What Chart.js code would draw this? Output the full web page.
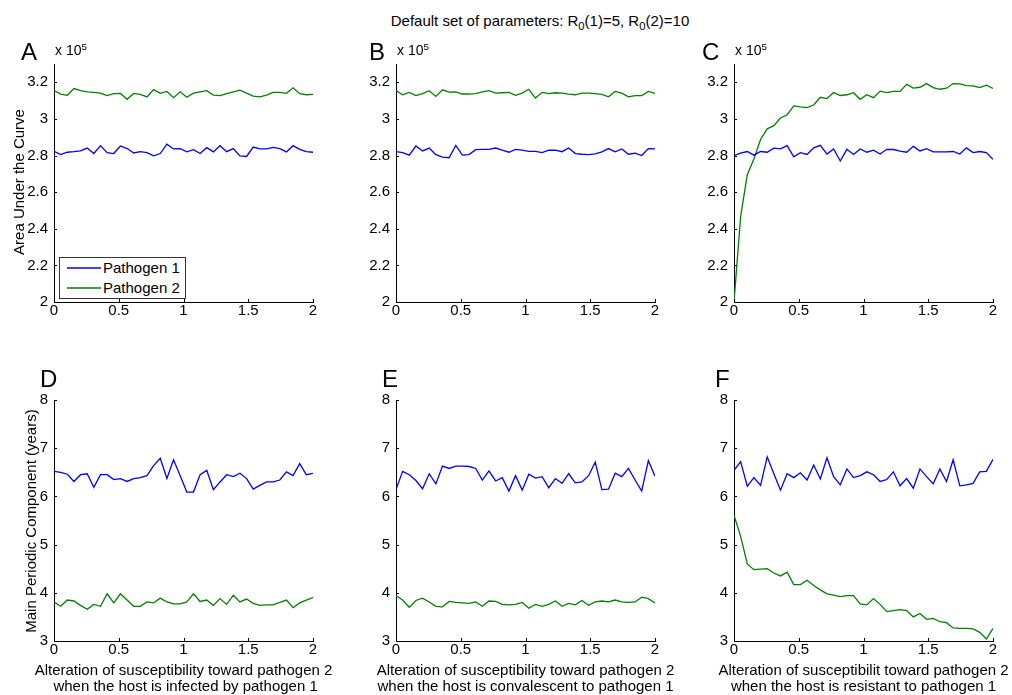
<!DOCTYPE html>
<html>
<head>
<meta charset="utf-8">
<script src="https://cdn.jsdelivr.net/npm/chart.js@4.4.0/dist/chart.umd.min.js"></script>
<style>
  body { margin: 0; background: #fff; }
  #page { position: relative; width: 1012px; height: 695px; overflow: hidden;
          font-family: "Liberation Sans", Arial, Helvetica, sans-serif; color: #000; }
  .panel { position: absolute; }
  .txt { position: absolute; white-space: pre; line-height: 1; }
  .txt sub { font-size: 0.75em; vertical-align: baseline; position: relative; top: 0.3em; }
  .txt sup { font-size: 0.7em; vertical-align: baseline; position: relative; top: -0.55em; }
  .legend { position: absolute; border: 1px solid #333; background: #fff; box-sizing: border-box; }
  .legend .swatch { position: absolute; height: 2px; opacity: 0.75; }
</style>
</head>
<body>
<div id="page"></div>
<script>
// x axis: alteration of susceptibility, 40 steps from 0 to 2
const xValues = [0, 0.0513, 0.1026, 0.1538, 0.2051, 0.2564, 0.3077, 0.3590, 0.4103, 0.4615,
  0.5128, 0.5641, 0.6154, 0.6667, 0.7179, 0.7692, 0.8205, 0.8718, 0.9231, 0.9744,
  1.0256, 1.0769, 1.1282, 1.1795, 1.2308, 1.2821, 1.3333, 1.3846, 1.4359, 1.4872,
  1.5385, 1.5897, 1.6410, 1.6923, 1.7436, 1.7949, 1.8462, 1.8974, 1.9487, 2];

// Area under the curve (x 10^5)
const aucInfectedP1 = [2.823, 2.805, 2.818, 2.821, 2.825, 2.841, 2.811, 2.854, 2.816, 2.811,
  2.852, 2.838, 2.814, 2.821, 2.816, 2.798, 2.811, 2.862, 2.836, 2.838,
  2.820, 2.832, 2.811, 2.843, 2.820, 2.854, 2.821, 2.838, 2.798, 2.795,
  2.846, 2.836, 2.836, 2.845, 2.838, 2.820, 2.854, 2.834, 2.821, 2.818];
const aucInfectedP2 = [3.155, 3.136, 3.129, 3.166, 3.154, 3.148, 3.145, 3.141, 3.127, 3.138,
  3.139, 3.107, 3.139, 3.134, 3.120, 3.160, 3.140, 3.150, 3.116, 3.148,
  3.118, 3.141, 3.148, 3.154, 3.130, 3.127, 3.138, 3.148, 3.157, 3.141,
  3.125, 3.120, 3.130, 3.145, 3.145, 3.140, 3.170, 3.138, 3.132, 3.134];
const aucConvalescentP1 = [2.821, 2.816, 2.802, 2.852, 2.825, 2.841, 2.805, 2.791, 2.788, 2.855,
  2.802, 2.805, 2.832, 2.834, 2.834, 2.841, 2.829, 2.818, 2.834, 2.829,
  2.823, 2.823, 2.816, 2.830, 2.829, 2.821, 2.841, 2.811, 2.807, 2.805,
  2.809, 2.820, 2.838, 2.820, 2.836, 2.807, 2.813, 2.800, 2.838, 2.836];
const aucConvalescentP2 = [3.155, 3.132, 3.145, 3.127, 3.138, 3.154, 3.123, 3.159, 3.146, 3.148,
  3.136, 3.136, 3.138, 3.148, 3.154, 3.141, 3.143, 3.145, 3.129, 3.141,
  3.162, 3.114, 3.145, 3.138, 3.143, 3.141, 3.136, 3.132, 3.141, 3.141,
  3.138, 3.134, 3.121, 3.150, 3.141, 3.121, 3.127, 3.127, 3.150, 3.139];
const aucResistantP1 = [2.799, 2.813, 2.822, 2.802, 2.822, 2.818, 2.840, 2.836, 2.854, 2.793,
  2.816, 2.806, 2.842, 2.856, 2.808, 2.836, 2.770, 2.834, 2.806, 2.836,
  2.818, 2.829, 2.808, 2.834, 2.833, 2.824, 2.818, 2.850, 2.825, 2.838,
  2.820, 2.820, 2.820, 2.822, 2.808, 2.842, 2.816, 2.822, 2.816, 2.779];
const aucResistantP2 = [2.000, 2.467, 2.695, 2.781, 2.888, 2.946, 2.963, 3.005, 3.023, 3.071,
  3.066, 3.062, 3.076, 3.118, 3.111, 3.144, 3.128, 3.132, 3.143, 3.107,
  3.132, 3.116, 3.152, 3.144, 3.150, 3.150, 3.189, 3.168, 3.173, 3.193,
  3.171, 3.162, 3.168, 3.193, 3.191, 3.182, 3.180, 3.171, 3.184, 3.166];

// Main periodic component (years)
const periodInfectedP1 = [6.52, 6.50, 6.46, 6.31, 6.45, 6.47, 6.19, 6.45, 6.45, 6.35,
  6.37, 6.31, 6.37, 6.39, 6.43, 6.64, 6.79, 6.37, 6.76, 6.43,
  6.09, 6.09, 6.45, 6.54, 6.14, 6.30, 6.45, 6.41, 6.48, 6.37,
  6.15, 6.23, 6.30, 6.30, 6.34, 6.51, 6.43, 6.68, 6.45, 6.48];
const periodInfectedP2 = [3.81, 3.72, 3.85, 3.83, 3.74, 3.66, 3.76, 3.72, 3.98, 3.79,
  3.98, 3.85, 3.72, 3.72, 3.81, 3.79, 3.89, 3.81, 3.77, 3.77,
  3.81, 3.98, 3.82, 3.85, 3.74, 3.88, 3.76, 3.95, 3.81, 3.87,
  3.78, 3.74, 3.75, 3.75, 3.80, 3.85, 3.69, 3.79, 3.85, 3.90];
const periodConvalescentP1 = [6.14, 6.52, 6.45, 6.33, 6.16, 6.47, 6.26, 6.63, 6.58, 6.63,
  6.63, 6.62, 6.58, 6.34, 6.53, 6.32, 6.39, 6.11, 6.43, 6.13,
  6.46, 6.38, 6.41, 6.18, 6.37, 6.27, 6.47, 6.28, 6.30, 6.43,
  6.71, 6.14, 6.15, 6.48, 6.41, 6.58, 6.34, 6.11, 6.74, 6.42];
const periodConvalescentP2 = [3.94, 3.85, 3.70, 3.84, 3.89, 3.81, 3.72, 3.71, 3.82, 3.80,
  3.79, 3.78, 3.81, 3.72, 3.83, 3.82, 3.76, 3.75, 3.76, 3.80,
  3.68, 3.76, 3.72, 3.76, 3.83, 3.72, 3.78, 3.75, 3.84, 3.74,
  3.81, 3.83, 3.81, 3.85, 3.81, 3.80, 3.81, 3.91, 3.88, 3.79];
const periodResistantP1 = [6.54, 6.72, 6.21, 6.39, 6.23, 6.82, 6.47, 6.13, 6.47, 6.39,
  6.49, 6.34, 6.65, 6.36, 6.80, 6.41, 6.24, 6.57, 6.39, 6.43,
  6.51, 6.45, 6.31, 6.35, 6.51, 6.22, 6.37, 6.17, 6.57, 6.41,
  6.26, 6.57, 6.31, 6.76, 6.22, 6.24, 6.27, 6.51, 6.52, 6.77];
const periodResistantP2 = [5.61, 5.17, 4.60, 4.48, 4.49, 4.50, 4.41, 4.35, 4.43, 4.17,
  4.17, 4.26, 4.15, 4.06, 3.98, 3.95, 3.92, 3.94, 3.94, 3.77,
  3.75, 3.88, 3.76, 3.61, 3.63, 3.65, 3.63, 3.50, 3.57, 3.45,
  3.47, 3.40, 3.38, 3.27, 3.26, 3.26, 3.25, 3.18, 3.04, 3.26];

// Tick labels
const xTicks = [0, 0.5, 1, 1.5, 2];
const aucTicks = [2, 2.2, 2.4, 2.6, 2.8, 3, 3.2];
const periodTicks = [3, 4, 5, 6, 7, 8];

const FONT = '"Liberation Sans", Arial, Helvetica, sans-serif';
const BLUE = '#0000ff';
const GREEN = '#008000';
const page = document.getElementById('page');

// MATLAB style ticks, drawn inside the axes.
const inwardTicks = {
  id: 'inwardTicks',
  afterDraw: function (chart) {
    const ctx = chart.ctx;
    const area = chart.chartArea;
    const xs = chart.scales.x;
    const ys = chart.scales.y;
    ctx.save();
    ctx.strokeStyle = '#000';
    ctx.lineWidth = 1;
    ctx.beginPath();
    xs.ticks.forEach(function (t) {
      const px = Math.round(xs.getPixelForValue(t.value)) + 0.5;
      ctx.moveTo(px, area.bottom);
      ctx.lineTo(px, area.bottom - 3);
    });
    ys.ticks.forEach(function (t) {
      const py = Math.round(ys.getPixelForValue(t.value)) + 0.5;
      ctx.moveTo(area.left, py);
      ctx.lineTo(area.left + 3, py);
    });
    ctx.stroke();
    ctx.restore();
  }
};

function tickLabel(v) {
  return String(Math.round(v * 10) / 10);
}

function makePanel(left, top, width, height, p1, p2, yMin, yMax, yTicks) {
  const padTop = 12, padRight = 14, yAxisW = 50, xAxisH = 30;
  const box = document.createElement('div');
  box.className = 'panel';
  box.style.left = (left - yAxisW) + 'px';
  box.style.top = (top - padTop) + 'px';
  const canvas = document.createElement('canvas');
  canvas.width = yAxisW + width + padRight;
  canvas.height = padTop + height + xAxisH;
  box.appendChild(canvas);
  page.appendChild(box);

  return new Chart(canvas, {
    type: 'line',
    data: {
      datasets: [{
        label: 'Pathogen 1',
        data: xValues.map(function (x, i) { return { x: x, y: p1[i] }; }),
        borderColor: BLUE,
        borderWidth: 1.3,
        pointRadius: 0,
        tension: 0
      }, {
        label: 'Pathogen 2',
        data: xValues.map(function (x, i) { return { x: x, y: p2[i] }; }),
        borderColor: GREEN,
        borderWidth: 1.3,
        pointRadius: 0,
        tension: 0
      }]
    },
    options: {
      responsive: false,
      animation: false,
      events: [],
      layout: { padding: { top: padTop, right: padRight, left: 0, bottom: 0 } },
      plugins: { legend: { display: false }, tooltip: { enabled: false } },
      scales: {
        x: {
          type: 'linear', min: 0, max: 2,
          grid: { display: false, drawTicks: false },
          border: { display: true, color: '#000', width: 1 },
          ticks: { color: '#000', padding: 0, font: { family: FONT, size: 15 }, callback: tickLabel },
          afterBuildTicks: function (s) { s.ticks = xTicks.map(function (v) { return { value: v }; }); },
          afterFit: function (s) { s.height = xAxisH; }
        },
        y: {
          type: 'linear', min: yMin, max: yMax,
          grid: { display: false, drawTicks: false },
          border: { display: true, color: '#000', width: 1 },
          ticks: { color: '#000', padding: 6, font: { family: FONT, size: 15 }, callback: tickLabel },
          afterBuildTicks: function (s) { s.ticks = yTicks.map(function (v) { return { value: v }; }); },
          afterFit: function (s) { s.width = yAxisW; }
        }
      }
    },
    plugins: [inwardTicks]
  });
}

function addText(html, x, baseline, size, align, parent) {
  const d = document.createElement('div');
  d.className = 'txt';
  d.style.fontSize = size + 'px';
  d.innerHTML = html;
  d.style.top = (baseline - 0.8465 * size) + 'px';
  d.style.left = x + 'px';
  if (align === 'center') {
    d.style.transform = 'translateX(-50%)';
  }
  (parent || page).appendChild(d);
}

function addVerticalText(html, cx, cy, size) {
  const d = document.createElement('div');
  d.className = 'txt';
  d.style.fontSize = size + 'px';
  d.innerHTML = html;
  d.style.left = cx + 'px';
  d.style.top = cy + 'px';
  d.style.transform = 'translate(-50%, -50%) rotate(-90deg)';
  page.appendChild(d);
}

// Panels
const cols = [54, 396, 734];
const plotW = 259;
makePanel(cols[0], 61, plotW, 241, aucInfectedP1, aucInfectedP2, 2, 3.3, aucTicks);
makePanel(cols[1], 61, plotW, 241, aucConvalescentP1, aucConvalescentP2, 2, 3.3, aucTicks);
makePanel(cols[2], 61, plotW, 241, aucResistantP1, aucResistantP2, 2, 3.3, aucTicks);
makePanel(cols[0], 397, plotW, 244, periodInfectedP1, periodInfectedP2, 3, 8, periodTicks);
makePanel(cols[1], 397, plotW, 244, periodConvalescentP1, periodConvalescentP2, 3, 8, periodTicks);
makePanel(cols[2], 397, plotW, 244, periodResistantP1, periodResistantP2, 3, 8, periodTicks);

// Texts
addText('Default set of parameters: R<sub>0</sub>(1)=5, R<sub>0</sub>(2)=10', 540, 26, 15, 'center');

addText('A', 21, 60, 24);
addText('B', 369, 60, 24);
addText('C', 702, 60, 24);
addText('D', 40, 387, 24);
addText('E', 382, 387, 24);
addText('F', 715, 387, 24);

cols.forEach(function (c) {
  addText('x 10<sup>5</sup>', c + 1, 55, 14);
});

addVerticalText('Area Under the Curve', 18, 182, 15);
addVerticalText('Main Periodic Component (years)', 30, 521, 15);

const xLabelTop = ['Alteration of susceptibility toward pathogen 2',
  'Alteration of susceptibility toward pathogen 2',
  'Alteration of susceptibilit toward pathogen 2'];
const xLabelBottom = [' when the host is infected by pathogen 1',
  'when the host is convalescent to pathogen 1',
  'when the host is resistant to pathogen 1'];
cols.forEach(function (c, i) {
  addText(xLabelTop[i], c + plotW / 2, 675, 15, 'center');
  addText(xLabelBottom[i], c + plotW / 2, 691, 15, 'center');
});

// Legend inside panel A
const legend = document.createElement('div');
legend.className = 'legend';
legend.style.left = '59px';
legend.style.top = '257px';
legend.style.width = '127px';
legend.style.height = '42px';
const legendItems = [['Pathogen 1', BLUE], ['Pathogen 2', GREEN]];
legendItems.forEach(function (item, i) {
  const sw = document.createElement('div');
  sw.className = 'swatch';
  sw.style.left = '7px';
  sw.style.width = '34px';
  sw.style.top = (8.5 + i * 20) + 'px';
  sw.style.backgroundColor = item[1];
  legend.appendChild(sw);
  addText(item[0], 43, 14.5 + i * 20.5, 15, 'left', legend);
});
page.appendChild(legend);
</script>
</body>
</html>
